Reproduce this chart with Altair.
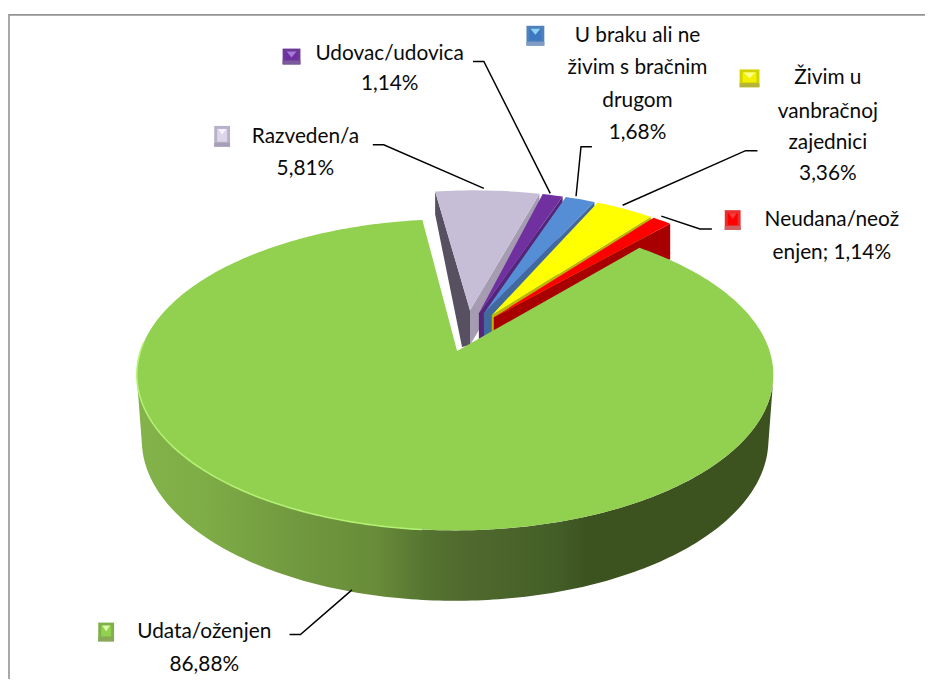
import math
import altair as alt

# ---- chart values ----
categories = ["Razveden/a", "Udovac/udovica", "U braku ali ne živim s bračnim drugom",
              "Živim u vanbračnoj zajednici", "Neudana/neoženjen"]
values = [5.81, 1.14, 1.68, 3.36, 1.14]
main_category = "Udata/oženjen"
main_value = 86.88

def pct(v):
    return f"{v:.2f}".replace(".", ",") + "%"

label_lines = [
    ["Razveden/a", pct(values[0])],
    ["Udovac/udovica", pct(values[1])],
    ["U braku ali ne", "živim s bračnim", "drugom", pct(values[2])],
    ["Živim u", "vanbračnoj", "zajednici", pct(values[3])],
    ["Neudana/neož", "enjen; " + pct(values[4])],
    ["Udata/oženjen", pct(main_value)],
]

# ---- geometry and styles ----
top_cols = ["#c6bdd6", "#7030a0", "#558ed5", "#ffff00", "#ff0000"]
side_cols = ["#a59cb2", "#55257a", "#41699d", "#bdb800", "#a80000"]
apexes = [(474, 310), (483, 313), (488, 313), (496, 315), (498, 317)]
GROUP = dict(cx=478, cy=347, rx=321, ry=158)
TOP = dict(cx=459, cy=375, rx=321, ry=157)
BOT = dict(cx=459, cy=441, rx=316, ry=162)
APEX_MAIN = (461, 351)
DEPTH = 35


def rim(e, deg):
    a = math.radians(deg)
    return (e["cx"] + e["rx"] * math.sin(a), e["cy"] - e["ry"] * math.cos(a))


def arc(e, a0, a1, step=1.0):
    n = max(2, int(abs(a1 - a0) / step))
    return [rim(e, a0 + (a1 - a0) * i / n) for i in range(n + 1)]


def poly(points, fill):
    pts = [list(p) for p in points] + [list(points[0])]
    return {"type": "Feature", "properties": {"fill": fill},
            "geometry": {"type": "Polygon", "coordinates": [pts]}}


def line(points, stroke="#000000"):
    return {"type": "Feature", "properties": {"stroke": stroke},
            "geometry": {"type": "LineString", "coordinates": [list(p) for p in points]}}


def collection(features):
    return alt.Data(values={"type": "FeatureCollection", "features": features},
                    format=alt.DataFormat(property="features", type="json"))


PROJ = dict(type="identity", scale=1, translate=[-8, -8])

# small exploded slices, back to front
flat = []
t = -7.0
k, gap = 3.25, 0.6
p0 = rim(GROUP, t)
ax, ay = apexes[0]
flat.append(poly([p0, (p0[0], p0[1] + 23), (466, ay + DEPTH + 2), (ax, ay + DEPTH), (ax, ay)], "#565060"))
for v, tc, sc, (ax, ay) in zip(values, top_cols, side_cols, apexes):
    t1 = t + v * k
    r = rim(GROUP, t1)
    flat.append(poly([(ax, ay), r, (r[0], r[1] + 36), (ax, ay + DEPTH)], sc))
    flat.append(poly([(ax, ay)] + arc(GROUP, t, t1), tc))
    t = t1 + gap

# big slice
m0 = 35.4
m1 = m0 + main_value * 318.7 / 86.88
top_face = poly([APEX_MAIN] + arc(TOP, m0, m1), "#92d050")
wall = poly(arc(TOP, 92, 268) + arc(BOT, 268, 92), "#000000")
rim_light = line(arc(TOP, 186, 282), "#b4f074")

leaders = [
    [(376, 143), (387, 143), (488, 187)],
    [(477, 59), (488, 59), (555, 192)],
    [(597, 145), (586, 145), (581, 195)],
    [(764, 149), (752, 149), (628, 204)],
    [(718, 228), (706, 228), (667, 215)],
    [(292, 637), (303, 637), (355, 592)],
]
frame = [(9, 682), (9, 12), (933, 12)]

keys = [
    (216, 124, 232, 145, "#b9b1ca", "#a9a0b8", "#dcd7e8", "#f6f3fb"),
    (285, 46, 303, 62, "#6b3a99", "#7a5a9c", "#6e2ea0", "#a67bd6"),
    (531, 23, 549, 43, "#4f81bd", "#7f9cc4", "#3f78c2", "#8fd0f4"),
    (746, 67, 766, 85, "#d2d200", "#b4b43a", "#f2f200", "#ffff90"),
    (99, 625, 115, 644, "#80b04a", "#88a85a", "#92d050", "#dcfaa8"),
    (731, 209, 747, 229, "#e83030", "#d06060", "#ff0000", "#ff3c3c"),
]
key_feats = []
for x0, y0, x1, y1, edge, bottom, inner, hi in keys:
    key_feats.append(poly([(x0, y0), (x1, y0), (x1, y1), (x0, y1)], edge))
    key_feats.append(poly([(x0, y1 - 4), (x1, y1 - 4), (x1, y1), (x0, y1)], bottom))
    key_feats.append(poly([(x0 + 3, y0 + 3), (x1 - 3, y0 + 3), (x1 - 3, y1 - 5), (x0 + 3, y1 - 5)], inner))
    xm = (x0 + x1) / 2
    key_feats.append(poly([(x0 + 4, y0 + 3), (x1 - 4, y0 + 3), (xm, y0 + 9)], hi))

text_anchor = [(308, [135, 168]), (393, [52, 82]), (643, [33, 66, 99, 131]),
               (835, [76, 110, 141, 173]), (839, [219, 252]), (206, [635, 668])]
text_rows = []
for (x, ys), lines in zip(text_anchor, label_lines):
    for y, s in zip(ys, lines):
        text_rows.append({"px": x - 8, "py": y - 8, "s": s})

# ---- layers ----
flat_layer = alt.Chart(collection(flat)).mark_geoshape(strokeWidth=0).encode(
    fill=alt.Fill("properties.fill:N", scale=None)).project(**PROJ)

grad_stops = [(143, "#83b34a"), (210, "#7eac46"), (300, "#71993f"), (380, "#688c39"),
              (430, "#567431"), (470, "#50692d"), (560, "#445e28"), (590, "#3c5320"), (775, "#3c5320")]
wall_layer = alt.Chart(collection([wall])).mark_geoshape(
    strokeWidth=0,
    fill=alt.LinearGradient(
        gradient="linear", x1=0, x2=1, y1=0, y2=0,
        stops=[alt.GradientStop(offset=(x - 143) / 632, color=c) for x, c in grad_stops]),
).project(**PROJ)

top_layer = alt.Chart(collection([top_face])).mark_geoshape(strokeWidth=0, fill="#92d050").project(**PROJ)
rim_layer = alt.Chart(collection([rim_light])).mark_geoshape(
    filled=False, stroke="#b4f074", strokeWidth=1.6).project(**PROJ)
leader_layer = alt.Chart(collection([line(l) for l in leaders])).mark_geoshape(
    filled=False, stroke="#000000", strokeWidth=1.5).project(**PROJ)
frame_layer = alt.Chart(collection([line(frame)])).mark_geoshape(
    filled=False, stroke="#949494", strokeWidth=1.6).project(**PROJ)
key_layer = alt.Chart(collection(key_feats)).mark_geoshape(strokeWidth=0).encode(
    fill=alt.Fill("properties.fill:N", scale=None)).project(**PROJ)
text_layer = alt.Chart(alt.Data(values=text_rows)).mark_text(
    font="Lato", fontSize=21, color="#0a0a0a", align="center", baseline="middle").encode(
    x=alt.X("px:Q", scale=None, axis=None),
    y=alt.Y("py:Q", scale=None, axis=None),
    text="s:N")

chart = alt.layer(frame_layer, flat_layer, wall_layer, top_layer, rim_layer,
                  leader_layer, key_layer, text_layer).properties(
    width=925, height=674, padding=0, autosize=alt.AutoSizeParams(type="none"),
    background="#ffffff").configure_view(stroke=None)

chart.save("out.html", embed_options={"renderer": "svg", "actions": False})
